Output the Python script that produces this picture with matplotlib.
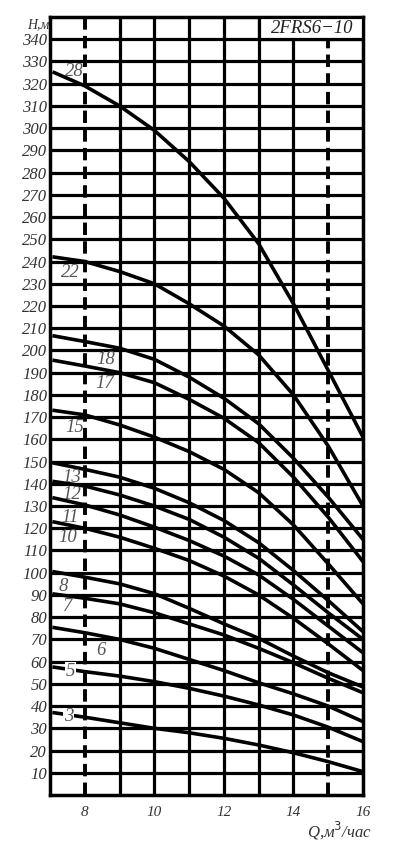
import numpy as np
import matplotlib.pyplot as plt

# flow, m3/h
q = [7.12, 8, 9, 10, 11, 12, 13, 14, 15, 16]

# head curves by number of stages
stages = [28, 22, 18, 17, 15, 13, 12, 11, 10, 8, 7, 6, 5, 3]
h28 = [325, 319, 310, 299, 285, 268.5, 248, 221, 191, 161]
h22 = [242, 240, 235.5, 230, 221, 211, 198, 180, 157, 130]
h18 = [206.5, 204, 201, 196, 188, 178.5, 167, 151.5, 134, 115]
h17 = [195.5, 193, 190, 185.5, 178, 169.5, 158.5, 143, 125, 105]
h15 = [173, 171, 166.5, 161, 154.5, 146.5, 136, 121.5, 104, 86]
h13 = [149.3, 146.5, 143, 138, 131.5, 123.5, 113.5, 101, 87.5, 73.5]
h12 = [141, 139, 135, 130, 124, 116, 106.5, 94.5, 82, 70]
h11 = [133.6, 130.5, 126, 120.5, 114.5, 107.5, 99, 88, 76, 64]
h10 = [122.8, 120, 116, 111, 105.5, 98.5, 90, 79.5, 68, 56]
h8 = [100.4, 98, 95, 90.6, 84, 77, 70.5, 62.5, 55, 48.6]
h7 = [90.4, 88.5, 86, 82, 77, 72, 66, 59.5, 52.5, 46]
h6 = [75.3, 73, 70, 66, 61, 56, 50.5, 45.5, 40, 33]
h5 = [57.5, 55.5, 53.5, 51, 48, 44.5, 40.5, 36, 30.5, 24]
h3 = [37, 35, 32.5, 30, 28, 25.5, 22.5, 19, 15, 10.5]
heads = [h28, h22, h18, h17, h15, h13, h12, h11, h10, h8, h7, h6, h5, h3]

# label positions (Q, H) for each curve number
label_q = [7.7, 7.58, 8.6, 8.57, 7.72, 7.63, 7.63, 7.58, 7.51, 7.39, 7.5, 8.45, 7.58, 7.53]
label_h = [325.5, 235, 196, 185, 165.5, 143, 135, 125, 116, 94, 84.7, 65.2, 55.5, 35.2]

x_ticks = [8, 10, 12, 14, 16]
y_ticks = list(range(10, 350, 10))

serif = "Liberation Serif"

fig = plt.figure(figsize=(3.95, 8.41), dpi=100)
ax = fig.add_axes([50 / 395, 1 - 795 / 841, 313 / 395, 778 / 841])
ax.set_xlim(7, 16)
ax.set_ylim(0, 350)

# grid
for y in y_ticks:
    ax.axhline(y, color="black", lw=2.3, zorder=1)
for x in range(8, 16):
    if x in (8, 15):
        ax.axvline(x, color="black", lw=2.8, ls=(0, (3.2, 1.6)), zorder=1)
    else:
        ax.axvline(x, color="black", lw=2.3, zorder=1)

for h in heads:
    ax.plot(q, h, color="black", lw=2.6, zorder=3, solid_joinstyle="round")

for n, lq, lh in zip(stages, label_q, label_h):
    if n in (5, 3):
        ax.text(lq, lh, str(n), fontsize=13.5, family=serif, style="italic", color="#555555",
                ha="center", va="center", zorder=4,
                bbox=dict(facecolor="white", edgecolor="none", pad=0.5))
    else:
        ax.text(lq, lh, str(n), fontsize=13.5, family=serif, style="italic", color="#555555",
                ha="center", va="center", zorder=4)

# model name box
ax.add_patch(plt.Rectangle((13, 340), 3, 10, facecolor="white", edgecolor="black",
                           lw=2.3, zorder=5))
ax.text(14.53, 345, "2FRS6\u221210", fontsize=13.5, family=serif, style="italic",
        ha="center", va="center", zorder=6, color="#222222")

ax.set_xticks(x_ticks)
ax.set_yticks(y_ticks)
ax.set_xticklabels([str(t) for t in x_ticks], fontsize=11, family=serif, style="italic", color="#333333")
ax.set_yticklabels([str(t) for t in y_ticks], fontsize=12, family=serif, style="italic", color="#333333")
ax.tick_params(length=0, pad=2)
ax.tick_params(axis="x", pad=8)
for s in ax.spines.values():
    s.set_linewidth(2.5)

fig.text(27 / 395, 1 - 25 / 841, "H,м", fontsize=10, family=serif, style="italic",
         ha="left", va="center", color="#333333")
fig.text(372 / 395, 1 - 831 / 841, "Q,м$^3$/час", fontsize=12, family=serif, style="italic",
         ha="right", va="center", color="#333333")

plt.savefig("out.png", dpi=100, facecolor="white")
plt.close()
